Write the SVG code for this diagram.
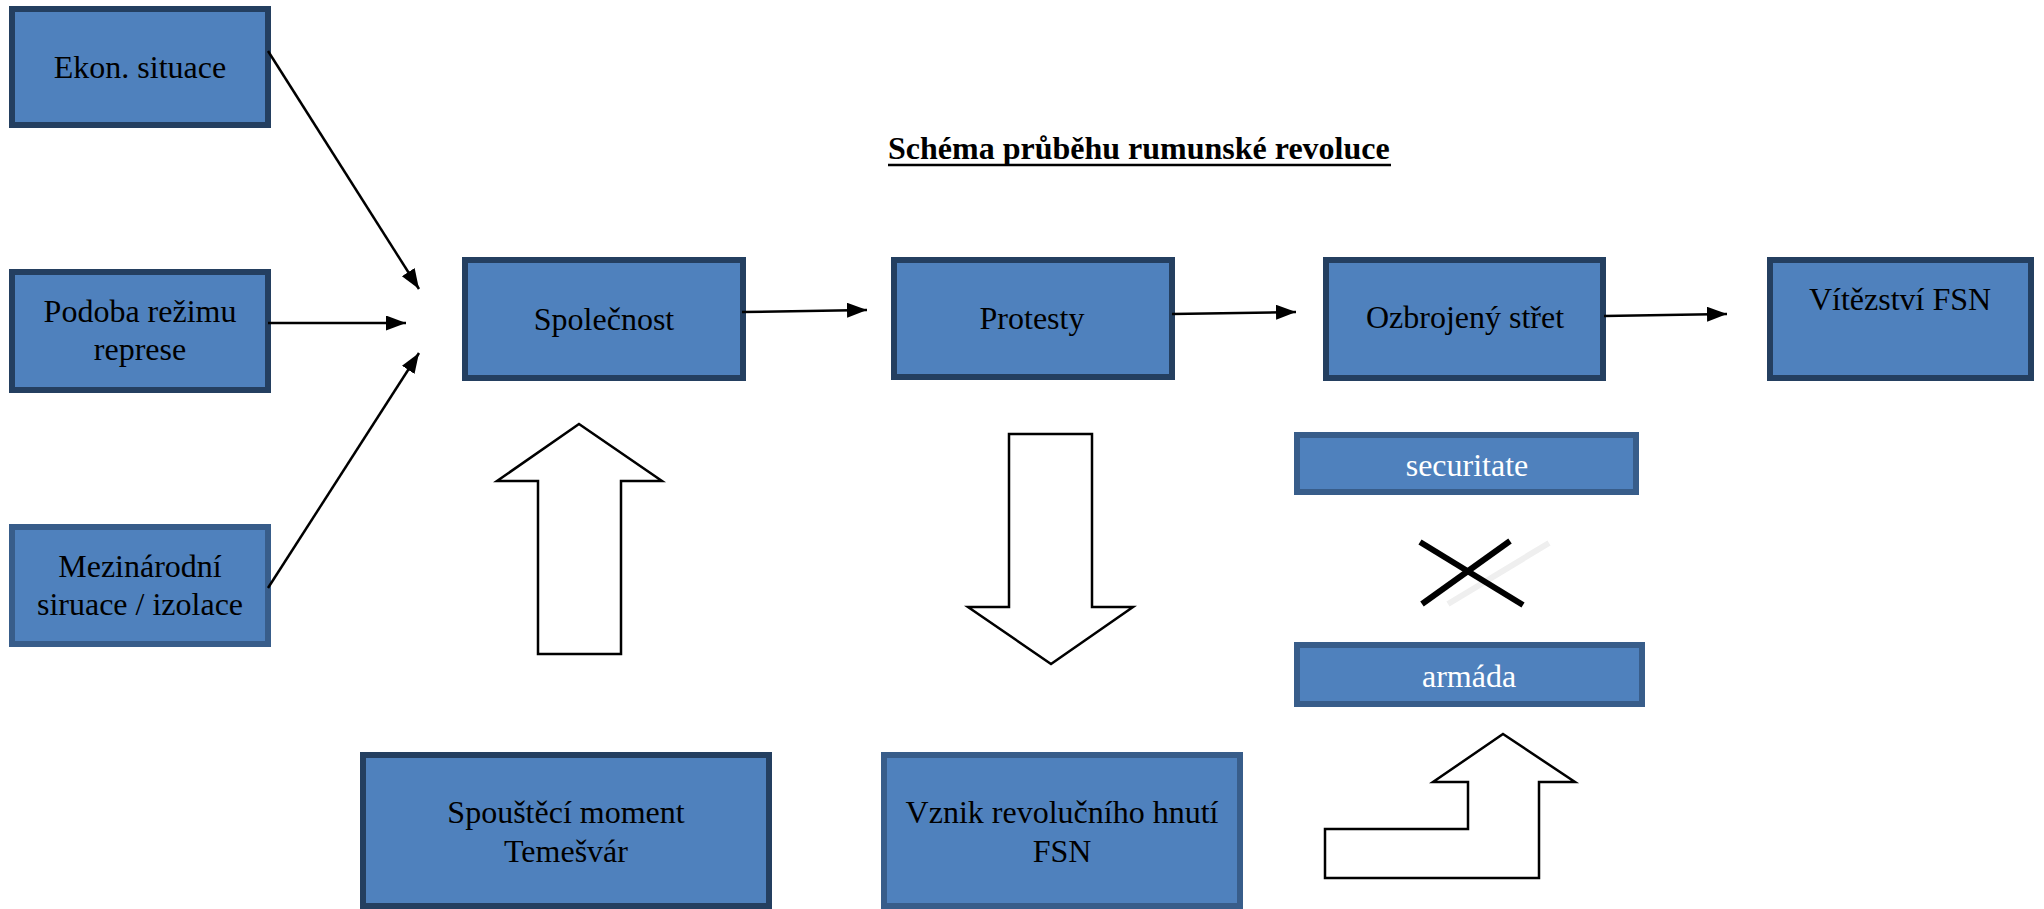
<svg xmlns="http://www.w3.org/2000/svg" width="2044" height="909" viewBox="0 0 2044 909">
<style>
.box{fill:#4f81bd;stroke-width:6}
.dk{stroke:#243f60}
.lt{stroke:#385d8a}
.t{font-family:"Liberation Serif","Times New Roman",serif;font-size:32px;fill:#000;text-anchor:middle}
.w{fill:#fff}
.ln{stroke:#000;stroke-width:2.5;fill:none}
.blk{fill:#fff;stroke:#000;stroke-width:2.5;stroke-linejoin:miter}
</style>
<defs>
<marker id="ah" markerUnits="userSpaceOnUse" markerWidth="22" markerHeight="16" refX="20" refY="7.5" orient="auto">
<path d="M0,0 L20,7.5 L0,15 z" fill="#000"/>
</marker>
</defs>
<rect width="2044" height="909" fill="#fff"/>
<g id="title">
<text x="888" y="159" font-family="Liberation Serif, Times New Roman, serif" font-size="32" font-weight="bold" fill="#000">Schéma průběhu rumunské revoluce</text>
<line x1="888" y1="165" x2="1391" y2="165" stroke="#000" stroke-width="2.5"/>
</g>
<g id="n-ekon"><rect class="box dk" x="12" y="9" width="256" height="116"/><text class="t" x="140" y="78">Ekon. situace</text></g>
<g id="n-podoba"><rect class="box dk" x="12" y="272" width="256" height="118"/><text class="t" x="140" y="322">Podoba režimu</text><text class="t" x="140" y="360">represe</text></g>
<g id="n-mezinarodni"><rect class="box lt" x="12" y="527" width="256" height="117"/><text class="t" x="140" y="577">Mezinárodní</text><text class="t" x="140" y="615">siruace / izolace</text></g>
<g id="n-spolecnost"><rect class="box dk" x="465" y="260" width="278" height="118"/><text class="t" x="604" y="330">Společnost</text></g>
<g id="n-protesty"><rect class="box dk" x="894" y="260" width="278" height="117"/><text class="t" x="1032" y="329">Protesty</text></g>
<g id="n-ozbrojeny"><rect class="box dk" x="1326" y="260" width="277" height="118"/><text class="t" x="1465" y="328">Ozbrojený střet</text></g>
<g id="n-vitezstvi"><rect class="box dk" x="1770" y="260" width="261" height="118"/><text class="t" x="1900" y="310">Vítězství FSN</text></g>
<g id="n-securitate"><rect class="box lt" x="1297" y="435" width="339" height="57"/><text class="t w" x="1467" y="476">securitate</text></g>
<g id="n-armada"><rect class="box lt" x="1297" y="645" width="345" height="59"/><text class="t w" x="1469" y="687">armáda</text></g>
<g id="n-spousteci"><rect class="box dk" x="363" y="755" width="406" height="151"/><text class="t" x="566" y="823">Spouštěcí moment</text><text class="t" x="566" y="862">Temešvár</text></g>
<g id="n-vznik"><rect class="box lt" x="884" y="755" width="356" height="151"/><text class="t" x="1062" y="823">Vznik revolučního hnutí</text><text class="t" x="1062" y="862">FSN</text></g>
<g id="connectors">
<line class="ln" x1="268" y1="51" x2="419" y2="289" marker-end="url(#ah)"/>
<line class="ln" x1="268" y1="323" x2="406" y2="323" marker-end="url(#ah)"/>
<line class="ln" x1="268" y1="588" x2="419" y2="353" marker-end="url(#ah)"/>
<line class="ln" x1="742" y1="312" x2="867" y2="310" marker-end="url(#ah)"/>
<line class="ln" x1="1172" y1="314" x2="1296" y2="312" marker-end="url(#ah)"/>
<line class="ln" x1="1604" y1="316" x2="1727" y2="314" marker-end="url(#ah)"/>
</g>
<g id="block-arrows">
<polygon class="blk" points="579,424 662,481 621,481 621,654 538,654 538,481 497,481"/>
<polygon class="blk" points="1009,434 1092,434 1092,607 1133,607 1051,664 968,607 1009,607"/>
<polygon class="blk" points="1503,734 1575,782 1539,782 1539,878 1325,878 1325,829 1468,829 1468,782 1433,782"/>
</g>
<g id="cross">
<line x1="1448" y1="604" x2="1549" y2="543" stroke="#efefef" stroke-width="6"/>
<line x1="1420" y1="542" x2="1523" y2="605" stroke="#000" stroke-width="6"/>
<line x1="1422" y1="604" x2="1510" y2="541" stroke="#000" stroke-width="6"/>
</g>
</svg>
